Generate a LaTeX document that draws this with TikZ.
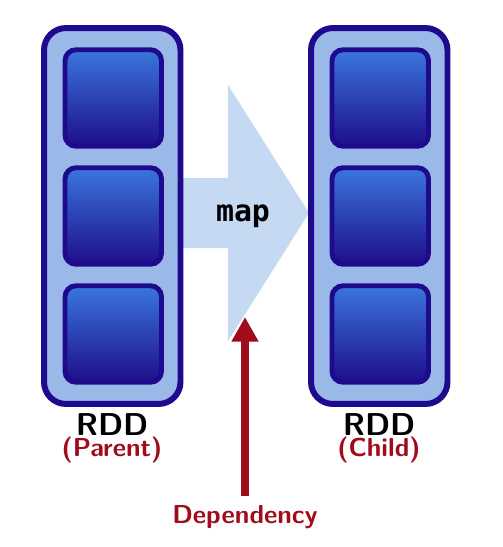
\documentclass[tikz,border=0pt]{standalone}
\usepackage{fontspec}
\usetikzlibrary{arrows.meta}

\newfontfamily\mapfont{DejaVu Sans Mono}

\definecolor{rddline}{RGB}{30,10,140}
\definecolor{rddfill}{RGB}{155,185,232}
\definecolor{parttop}{RGB}{58,118,220}
\definecolor{partbottom}{RGB}{30,14,138}
\definecolor{mapfill}{RGB}{198,217,243}
\definecolor{depred}{RGB}{160,12,28}

\tikzstyle{rddbox}=[
    draw=rddline, line width=3.4pt, fill=rddfill,
    rounded corners=0.44cm, inner sep=0pt,
    minimum width=2.73cm, minimum height=7.52cm,
]
\tikzstyle{partbox}=[
    draw=rddline, line width=2.8pt,
    top color=parttop, bottom color=partbottom,
    rounded corners=0.22cm, inner sep=0pt,
    minimum size=1.93cm,
]
\tikzstyle{rddname}=[anchor=base, inner sep=0pt, font=\sffamily\bfseries\fontsize{18}{20}\selectfont]
\tikzstyle{rddrole}=[anchor=base, inner sep=0pt, text=depred, font=\sffamily\bfseries\fontsize{14.8}{16}\selectfont]

\begin{document}
\begin{tikzpicture}[x=0.02cm, y=-0.02cm]
        \useasboundingbox (0,0) rectangle (503,547);
        % the map arrow
        \fill[mapfill] (150,178) -- (228,178) -- (228,85) -- (309,213)
            -- (228,341) -- (228,248) -- (150,248) -- cycle;
        \node (map) at (243,216) [font=\mapfont\bfseries\fontsize{17}{20}\selectfont] {map};
        % parent RDD
        \node (parent) at (112.25,216) [rddbox] {};
        \node (parentA) at (113.25,98) [partbox] {};
        \node (parentB) at (113.25,216) [partbox] {};
        \node (parentC) at (113.25,334) [partbox] {};
        % child RDD
        \node (child) at (379.25,216) [rddbox] {};
        \node (childA) at (380.25,98) [partbox] {};
        \node (childB) at (380.25,216) [partbox] {};
        \node (childC) at (380.25,334) [partbox] {};
        % labels
        \node (parentname) at (112,435) [rddname] {RDD};
        \node (parentrole) at (112,456) [rddrole] {(Parent)};
        \node (childname) at (379,435) [rddname] {RDD};
        \node (childrole) at (379,456) [rddrole] {(Child)};
        \node (dependency) at (245,523) [rddrole] {Dependency};
        \coordinate (deptip) at (245,317);
        \draw[depred, line width=4pt, -{Triangle[length=14pt, width=14.5pt]}]
            (dependency.north) ++(0,-9) -- (deptip);
    \end{tikzpicture}
\end{document}
